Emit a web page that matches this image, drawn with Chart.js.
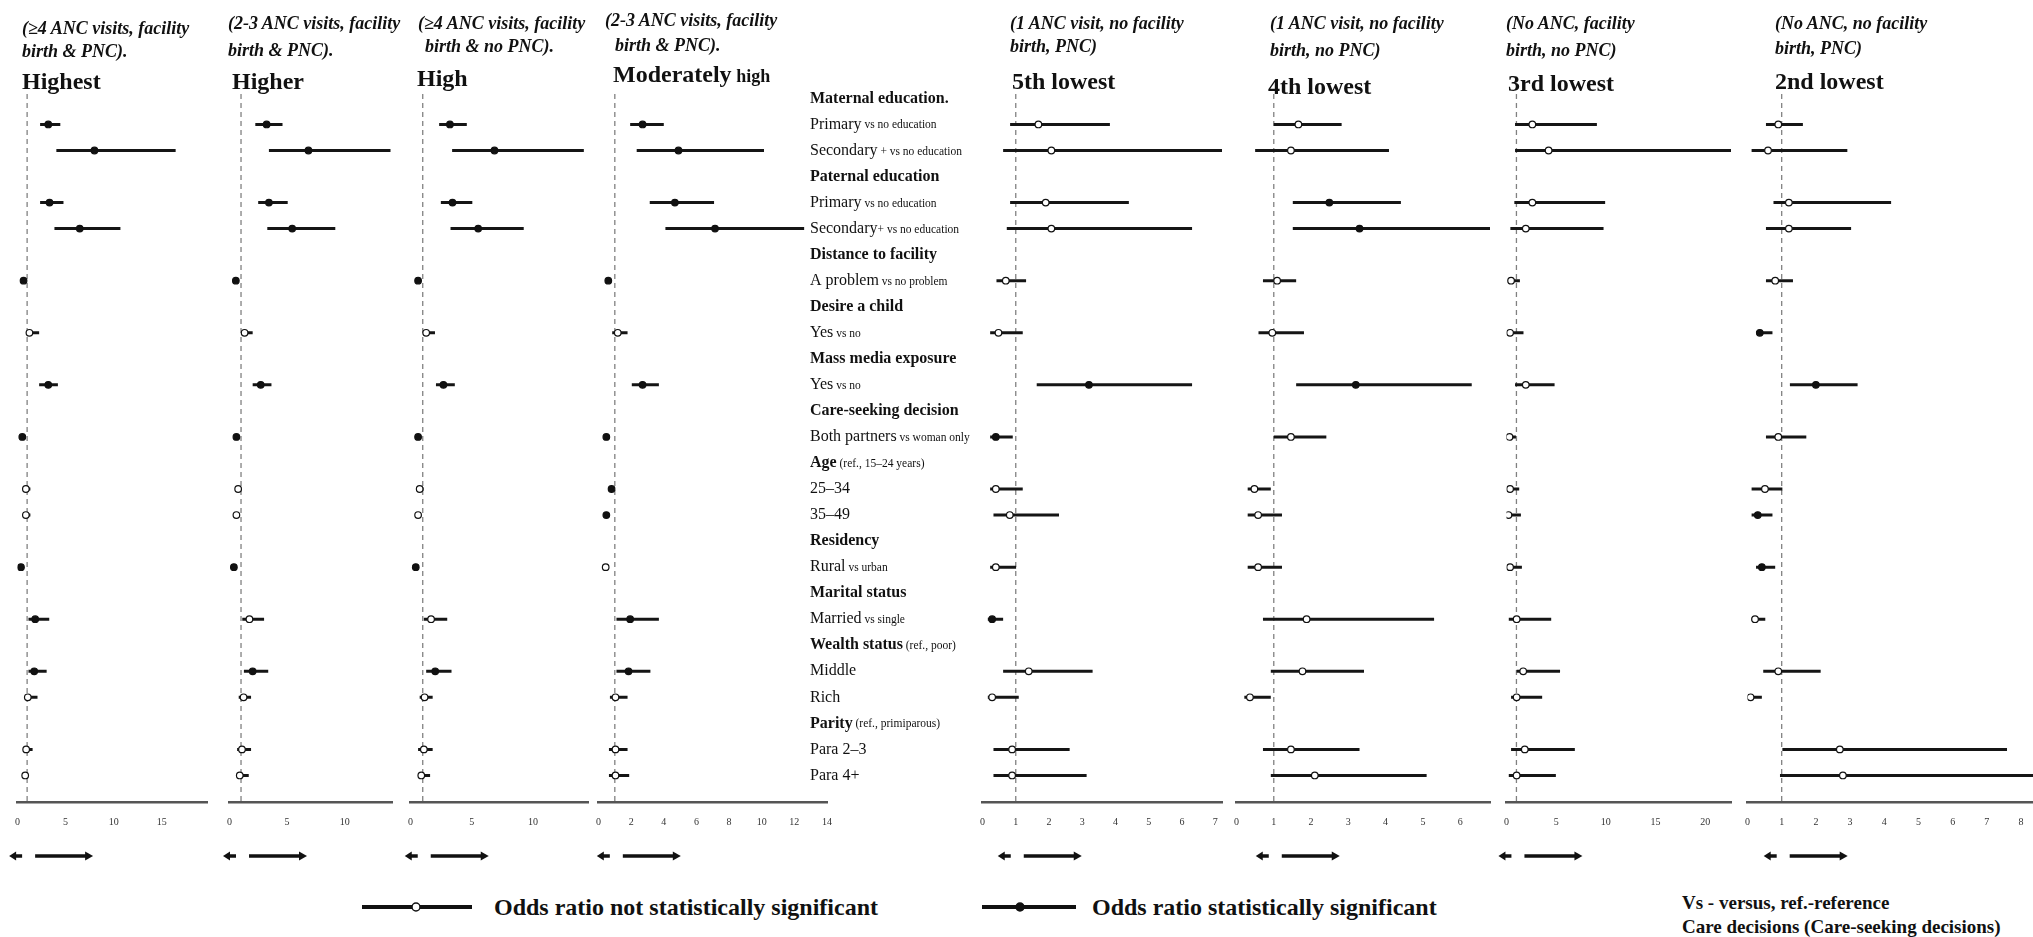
<!DOCTYPE html>
<html>
<head>
<meta charset="utf-8">
<script src="https://cdn.jsdelivr.net/npm/chart.js@4.4.0/dist/chart.umd.min.js"></script>
<style>
  body { margin:0; background:#fff; width:2033px; height:937px; overflow:hidden; position:relative; color:#111; font-family:"Liberation Serif", serif; }
  canvas { position:absolute; top:0; }
  .sub { position:absolute; font:italic bold 18px/23px "Liberation Serif"; white-space:nowrap; }
  .ttl { position:absolute; font:bold 24px/28px "Liberation Serif"; white-space:nowrap; }
  .leg { position:absolute; font:bold 24px/28px "Liberation Serif"; white-space:nowrap; }
  .note { position:absolute; font:bold 19px/24px "Liberation Serif"; white-space:nowrap; }
</style>
</head>
<body>
<script>
// row labels of the middle column (headers included)
var rowMain = ["Maternal education.", "Primary", "Secondary", "Paternal education", "Primary", "Secondary",
  "Distance to facility", "A problem", "Desire a child", "Yes", "Mass media exposure", "Yes",
  "Care-seeking decision", "Both partners", "Age", "25\u201334", "35\u201349", "Residency", "Rural",
  "Marital status", "Married", "Wealth status", "Middle", "Rich", "Parity", "Para 2\u20133", "Para 4+"];
var rowNote = ["", " vs no education", " + vs no education", "", " vs no education", "+ vs no education",
  "", " vs no problem", "", " vs no", "", " vs no", "", " vs woman only", " (ref., 15\u201324 years)", "", "",
  "", " vs urban", "", " vs single", " (ref., poor)", "", "", " (ref., primiparous)", "", ""];
var rowHeader = [1,0,0,1,0,0,1,0,1,0,1,0,1,0,1,0,0,1,0,1,0,1,0,0,1,0,0];
// rows that carry an estimate
var dataRows = [1,2,4,5,7,9,11,13,15,16,18,20,22,23,25,26];

// panel headings
var subLine1 = ["(\u22654 ANC visits, facility", "(2-3 ANC visits, facility", "(\u22654 ANC visits, facility", "(2-3 ANC visits, facility",
  "(1 ANC visit, no facility", "(1 ANC visit, no facility", "(No ANC, facility", "(No ANC, no facility"];
var subLine2 = ["birth & PNC).", "birth & PNC).", "birth & no PNC).", "birth & PNC).",
  "birth, PNC)", "birth, no PNC)", "birth, no PNC)", "birth, PNC)"];
var titleMain = ["Highest", "Higher", "High", "Moderately", "5th lowest", "4th lowest", "3rd lowest", "2nd lowest"];
var titleSmall = ["", "", "", " high", "", "", "", ""];

// odds ratios, lower / upper CI, significance  (order = dataRows)
var orHighest  = [3.2, 8.0, 3.33, 6.47, 0.63, 1.24, 3.2, 0.5, 0.87, 0.87, 0.36, 1.84, 1.74, 1.07, 0.9, 0.8];
var loHighest  = [2.35, 4.04, 2.35, 3.84, 0.55, 1.0, 2.25, 0.45, 0.75, 0.56, 0.3, 1.14, 1.14, 0.9, 0.73, 0.56];
var hiHighest  = [4.45, 16.44, 4.78, 10.7, 0.72, 2.25, 4.2, 0.6, 1.34, 1.34, 0.45, 3.3, 3.03, 2.08, 1.57, 1.07];
var sigHighest = [1,1,1,1,1,0,1,1,0,0,1,1,1,0,0,0];

var orHigher  = [3.22, 6.85, 3.42, 5.44, 0.55, 1.31, 2.71, 0.6, 0.75, 0.6, 0.38, 1.73, 2.01, 1.22, 1.08, 0.89];
var loHigher  = [2.24, 3.42, 2.49, 3.28, 0.45, 1.05, 2.01, 0.5, 0.62, 0.5, 0.3, 1.11, 1.25, 0.8, 0.66, 0.6];
var hiHigher  = [4.6, 13.97, 5.05, 9.18, 0.68, 2.01, 3.64, 0.72, 0.97, 0.89, 0.48, 3.0, 3.36, 1.87, 1.87, 1.67];
var sigHigher = [1,1,1,1,1,0,1,1,0,0,1,0,1,0,0,0];

var orHigh  = [3.22, 6.86, 3.43, 5.53, 0.62, 1.28, 2.69, 0.62, 0.75, 0.62, 0.43, 1.68, 2.02, 1.15, 1.09, 0.88];
var loHigh  = [2.34, 3.4, 2.48, 3.27, 0.5, 1.01, 2.08, 0.5, 0.62, 0.5, 0.35, 1.09, 1.28, 0.75, 0.62, 0.62];
var hiHigh  = [4.6, 14.16, 5.05, 9.25, 0.75, 2.0, 3.62, 0.72, 1.07, 0.88, 0.52, 3.0, 3.35, 1.81, 1.81, 1.6];
var sigHigh = [1,1,1,1,1,0,1,1,0,0,1,0,1,0,0,0];

var orModerate  = [2.7, 4.9, 4.68, 7.14, 0.6, 1.18, 2.7, 0.48, 0.8, 0.48, 0.44, 1.94, 1.84, 1.04, 1.04, 1.04];
var loModerate  = [1.94, 2.34, 3.14, 4.1, 0.55, 0.84, 2.04, 0.45, 0.7, 0.43, 0.4, 1.1, 1.1, 0.7, 0.64, 0.64];
var hiModerate  = [4.0, 10.14, 7.08, 12.6, 0.68, 1.78, 3.7, 0.64, 0.95, 0.55, 0.5, 3.7, 3.18, 1.78, 1.78, 1.88];
var sigModerate = [1,1,1,1,1,0,1,1,1,1,0,1,1,0,0,0];

var orFifth  = [1.68, 2.07, 1.9, 2.07, 0.7, 0.48, 3.2, 0.4, 0.4, 0.82, 0.4, 0.29, 1.39, 0.29, 0.89, 0.89];
var loFifth  = [0.83, 0.62, 0.83, 0.73, 0.42, 0.23, 1.63, 0.23, 0.23, 0.33, 0.23, 0.16, 0.62, 0.16, 0.33, 0.33];
var hiFifth  = [3.83, 7.2, 4.4, 6.3, 1.31, 1.21, 6.3, 0.91, 1.21, 2.3, 1.01, 0.62, 3.31, 1.09, 2.62, 3.13];
var sigFifth = [0,0,0,0,0,0,1,1,0,0,0,1,0,0,0,0];

var orFourth  = [1.66, 1.46, 2.49, 3.3, 1.09, 0.96, 3.2, 1.46, 0.48, 0.58, 0.58, 1.88, 1.77, 0.36, 1.46, 2.1];
var loFourth  = [1.0, 0.5, 1.51, 1.51, 0.71, 0.59, 1.6, 1.0, 0.3, 0.3, 0.3, 0.71, 0.92, 0.21, 0.71, 0.92];
var hiFourth  = [2.82, 4.09, 4.41, 6.84, 1.6, 1.81, 6.31, 2.41, 0.92, 1.22, 1.22, 5.3, 3.42, 0.92, 3.3, 5.1];
var sigFourth = [0,0,1,1,0,0,1,0,0,0,0,0,0,0,0,0];

var orThird  = [2.6, 4.24, 2.6, 1.94, 0.46, 0.36, 1.94, 0.3, 0.36, 0.2, 0.36, 1.02, 1.68, 1.02, 1.84, 1.02];
var loThird  = [0.86, 0.86, 0.79, 0.39, 0.4, 0.3, 0.86, 0.25, 0.3, 0.15, 0.3, 0.23, 1.02, 0.46, 0.46, 0.23];
var hiThird  = [9.1, 22.7, 9.93, 9.77, 1.35, 1.71, 4.84, 0.95, 1.28, 1.45, 1.55, 4.5, 5.39, 3.59, 6.88, 4.97];
var sigThird = [0,0,0,0,0,0,0,0,0,0,0,0,0,0,0,0];

var orSecond  = [0.9, 0.6, 1.21, 1.21, 0.81, 0.36, 2.0, 0.9, 0.51, 0.3, 0.42, 0.22, 0.9, 0.09, 2.7, 2.79];
var loSecond  = [0.54, 0.12, 0.76, 0.54, 0.54, 0.25, 1.24, 0.54, 0.12, 0.12, 0.25, 0.12, 0.46, 0.06, 1.02, 0.95];
var hiSecond  = [1.62, 2.92, 4.2, 3.03, 1.33, 0.73, 3.22, 1.72, 1.02, 0.73, 0.81, 0.52, 2.14, 0.42, 7.59, 8.36];
var sigSecond = [0,0,0,0,0,1,1,0,0,1,1,0,0,0,0,0];

// axis settings per panel (max of x axis, tick step)
var axisMax  = [19.7, 14.1, 14.5, 14, 7.2, 6.8, 22.6, 8.35];
var axisStep = [5, 5, 5, 2, 1, 1, 5, 1];

var panels = [
  {or: orHighest,  lo: loHighest,  hi: hiHighest,  sig: sigHighest,  x0: 12.8,   ppu: 9.86,  subX: 22,   sub2X: 22,   ttlX: 22,   top: [17, 40, 67]},
  {or: orHigher,   lo: loHigher,   hi: hiHigher,   sig: sigHigher,   x0: 224.5,  ppu: 11.85, subX: 228,  sub2X: 228,  ttlX: 232,  top: [12, 39, 67]},
  {or: orHigh,     lo: loHigh,     hi: hiHigh,     sig: sigHigh,     x0: 405.6,  ppu: 12.55, subX: 418,  sub2X: 425,  ttlX: 417,  top: [12, 35, 64]},
  {or: orModerate, lo: loModerate, hi: hiModerate, sig: sigModerate, x0: 594.4,  ppu: 16.67, subX: 605,  sub2X: 615,  ttlX: 613,  top: [9, 34, 60]},
  {or: orFifth,    lo: loFifth,    hi: hiFifth,    sig: sigFifth,    x0: 978,    ppu: 33.9,  subX: 1010, sub2X: 1010, ttlX: 1012, top: [12, 35, 67]},
  {or: orFourth,   lo: loFourth,   hi: hiFourth,   sig: sigFourth,   x0: 1231.9, ppu: 38,    subX: 1270, sub2X: 1270, ttlX: 1268, top: [12, 39, 72]},
  {or: orThird,    lo: loThird,    hi: hiThird,    sig: sigThird,    x0: 1502,   ppu: 10.14, subX: 1506, sub2X: 1506, ttlX: 1508, top: [12, 39, 69]},
  {or: orSecond,   lo: loSecond,   hi: hiSecond,   sig: sigSecond,   x0: 1743,   ppu: 34.75, subX: 1775, sub2X: 1775, ttlX: 1775, top: [12, 37, 67]}
];

var yMin = -0.17, yMax = 27.02;

// small arrows under each axis, placed around OR = 1
var arrowPlugin = {
  id: 'arrows',
  afterDraw: function(chart) {
    var ctx = chart.ctx, x1 = chart.scales.x.getPixelForValue(1), y = 856;
    ctx.save();
    ctx.strokeStyle = '#111'; ctx.fillStyle = '#111'; ctx.lineWidth = 3.5;
    ctx.beginPath(); ctx.moveTo(x1 - 5, y); ctx.lineTo(x1 - 13, y); ctx.stroke();
    ctx.beginPath(); ctx.moveTo(x1 - 18, y); ctx.lineTo(x1 - 11, y - 4.5); ctx.lineTo(x1 - 11, y + 4.5); ctx.closePath(); ctx.fill();
    ctx.beginPath(); ctx.moveTo(x1 + 8, y); ctx.lineTo(x1 + 60, y); ctx.stroke();
    ctx.beginPath(); ctx.moveTo(x1 + 66, y); ctx.lineTo(x1 + 58, y - 4.5); ctx.lineTo(x1 + 58, y + 4.5); ctx.closePath(); ctx.fill();
    ctx.restore();
  }
};

function makeLabelPlugin(labelX) {
  return {
    id: 'rowLabels',
    afterDraw: function(chart) {
      var ctx = chart.ctx, ys = chart.scales.y;
      ctx.save();
      ctx.fillStyle = '#111';
      ctx.textBaseline = 'middle';
      for (var i = 0; i < rowMain.length; i++) {
        var y = ys.getPixelForValue(i);
        ctx.font = (rowHeader[i] ? 'bold ' : '') + '16px "Liberation Serif"';
        ctx.fillText(rowMain[i], labelX, y);
        var w = ctx.measureText(rowMain[i]).width;
        if (rowNote[i]) {
          ctx.font = '11.5px "Liberation Serif"';
          ctx.fillText(rowNote[i], labelX + w, y + 1);
        }
      }
      ctx.restore();
    }
  };
}

panels.forEach(function(p, k) {
  var padL = 12, padR = (k === 3) ? 170 : 12;
  var left = Math.round(p.x0) - padL;
  var cv = document.createElement('canvas');
  cv.width = Math.round(padL + axisMax[k] * p.ppu + padR);
  cv.height = 870;
  cv.style.left = left + 'px';
  document.body.appendChild(cv);

  // headings
  var s1 = document.createElement('div'); s1.className = 'sub';
  s1.style.left = p.subX + 'px'; s1.style.top = p.top[0] + 'px'; s1.textContent = subLine1[k];
  var s2 = document.createElement('div'); s2.className = 'sub';
  s2.style.left = p.sub2X + 'px'; s2.style.top = p.top[1] + 'px'; s2.textContent = subLine2[k];
  var t = document.createElement('div'); t.className = 'ttl';
  t.style.left = p.ttlX + 'px'; t.style.top = p.top[2] + 'px'; t.textContent = titleMain[k];
  if (titleSmall[k]) {
    var sm = document.createElement('span'); sm.style.fontSize = '18px'; sm.textContent = titleSmall[k];
    t.appendChild(sm);
  }
  document.body.appendChild(s1); document.body.appendChild(s2); document.body.appendChild(t);

  var datasets = [];
  datasets.push({
    type: 'scatter',
    data: dataRows.map(function(r, i) { return {x: p.or[i], y: r}; }),
    pointRadius: 3.3,
    pointHoverRadius: 3.3,
    pointBackgroundColor: p.sig.map(function(s) { return s ? '#111' : '#fff'; }),
    pointBorderColor: '#111',
    pointBorderWidth: 1.2,
    order: 0
  });
  dataRows.forEach(function(r, i) {
    datasets.push({
      type: 'line',
      data: [{x: p.lo[i], y: r}, {x: p.hi[i], y: r}],
      borderColor: '#151515',
      borderWidth: 3,
      pointRadius: 0,
      order: 1
    });
  });
  datasets.push({
    type: 'line',
    data: [{x: 1, y: yMin}, {x: 1, y: yMax}],
    borderColor: '#808080',
    borderWidth: 1.3,
    borderDash: [5, 4],
    pointRadius: 0,
    order: 2
  });

  var plugins = [arrowPlugin];
  if (k === 3) plugins.push(makeLabelPlugin(810 - left));

  new Chart(cv.getContext('2d'), {
    type: 'scatter',
    data: { datasets: datasets },
    plugins: plugins,
    options: {
      responsive: false,
      animation: false,
      events: [],
      layout: { padding: { top: 94, left: padL, right: padR, bottom: 28 } },
      plugins: { legend: { display: false }, tooltip: { enabled: false } },
      scales: {
        x: {
          type: 'linear', min: 0, max: axisMax[k],
          grid: { display: false, drawTicks: false },
          border: { color: '#555', width: 2.5 },
          ticks: { stepSize: axisStep[k], includeBounds: false, padding: 14, autoSkip: false, maxRotation: 0,
                   color: '#333', font: { family: 'Liberation Serif', size: 10 } },
          afterFit: function(scale) { scale.height = 40; }
        },
        y: { type: 'linear', display: false, reverse: true, min: yMin, max: yMax }
      }
    }
  });
});
</script>

<svg style="position:absolute;left:360px;top:898px" width="115" height="18">
  <line x1="2" y1="9" x2="112" y2="9" stroke="#111" stroke-width="4"/>
  <circle cx="56" cy="9" r="4" fill="#fff" stroke="#111" stroke-width="1.5"/>
</svg>
<div class="leg" style="left:494px;top:893px">Odds ratio not statistically significant</div>
<svg style="position:absolute;left:980px;top:898px" width="100" height="18">
  <line x1="2" y1="9" x2="96" y2="9" stroke="#111" stroke-width="4"/>
  <circle cx="40" cy="9" r="4" fill="#111" stroke="#111" stroke-width="1.5"/>
</svg>
<div class="leg" style="left:1092px;top:893px">Odds ratio statistically significant</div>
<div class="note" style="left:1682px;top:891px">Vs - versus, ref.-reference</div>
<div class="note" style="left:1682px;top:915px">Care decisions (Care-seeking decisions)</div>
</body>
</html>
